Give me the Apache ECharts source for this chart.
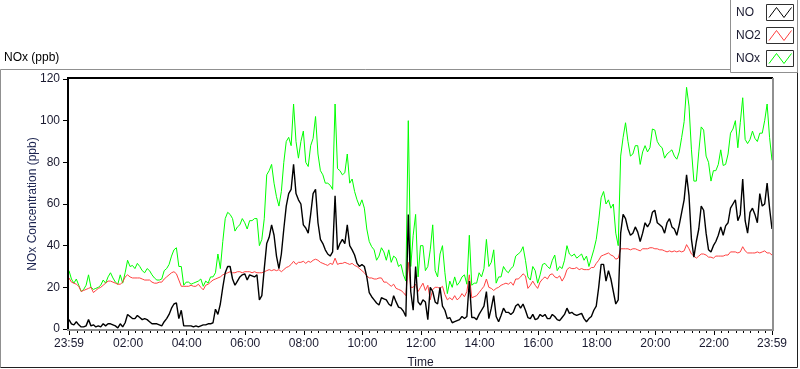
<!DOCTYPE html>
<html><head><meta charset="utf-8">
<script src="https://cdn.jsdelivr.net/npm/echarts@6/dist/echarts.min.js"></script>
<style>html,body{margin:0;padding:0;background:#fff}#c{width:800px;height:369px}</style>
</head><body><div id="c"></div>
<script>
// ---- data ----
const seriesNames = ['NO', 'NO2', 'NOx'];
const seriesColors = ['#000000', '#ff4040', '#00ff00'];
const chartTitle = 'NOx (ppb)';
const yAxisTitle = 'NOx Concentration (ppb)';
const xAxisTitle = 'Time';
// x = minutes after the first sample (23:59); samples every 5 minutes
const sampleStepMinutes = 5;
const tickMinutes = [0, 121, 241, 361, 481, 601, 721, 841, 961, 1081, 1201, 1321, 1440];
const tickLabels = ['23:59', '02:00', '04:00', '06:00', '08:00', '10:00', '12:00', '14:00', '16:00', '18:00', '20:00', '22:00', '23:59'];
const yTicks = [0, 20, 40, 60, 80, 100, 120];

const noValues = [
4.5, 2.5, 2, 3.5, 2, 1, 1, 1.5, 4.5, 1.5,
2, 1, 1.5, 1, 2.5, 1.5, 2.5, 2.5, 2, 1.5,
0.5, 2.5, 1, 3, 7, 6, 5, 5, 6.5, 5.5,
4.5, 5, 4.5, 3.5, 2.5, 2.5, 2.5, 2, 1.5, 3.5,
5, 7, 10, 12, 12.5, 5, 9, 1.5, 1.5, 1.5,
1.5, 1, 1.5, 1, 1.5, 2, 2, 2.5, 2.5, 3,
9.5, 7, 12, 20, 27, 30, 30, 24, 21, 23,
25, 26, 26.5, 23.5, 26, 25.5, 25, 26, 14, 16,
29, 41, 44, 50, 45, 35, 29, 36, 48, 59,
65, 67, 79, 65, 62, 60, 50, 48.5, 46, 55,
65, 67, 51, 43, 41, 38, 36, 35, 37, 64,
38, 41, 43, 41, 50, 40, 38, 35.5, 31.5, 30,
31, 30, 25, 17.5, 15.5, 14, 12.5, 11.5, 15, 14.5,
14, 12, 11, 16, 13, 10.5, 10, 8.5, 6, 55,
18, 9, 30, 13, 11.5, 14, 13, 4.5, 20, 18,
13, 12, 20, 11, 9, 5, 5.5, 3, 3.5, 4,
4.5, 6, 5, 6, 23, 5.5, 5.5, 4.5, 7, 9,
11, 18, 5, 10, 16, 6, 3.5, 6.5, 10, 8,
8, 7, 8, 11, 12, 10, 12, 9, 5.5, 5,
7, 4.5, 5, 7, 6, 7, 5, 5, 7, 6,
4.5, 4, 5.5, 7, 10, 7.5, 8, 7, 6.5, 7,
7.5, 5, 3.5, 5, 6, 9, 11, 20, 31, 31,
23, 28, 24, 18, 12, 14, 46, 55, 53, 48,
45, 46, 49, 46.5, 42, 46, 51, 49, 51, 56,
57, 51, 50, 49, 46, 51, 53, 49, 48, 45,
50, 56, 62, 74, 64, 43, 34.5, 42, 48, 59,
57, 46, 38, 37, 40, 42, 45, 49, 45, 49.5,
51, 58, 60, 62, 52, 55, 72, 52, 46, 56,
58, 55, 51, 65, 59, 60, 70, 58, 48
];

const no2Values = [
24.5, 22.5, 22, 21.5, 20.5, 18, 18.5, 19, 19.5, 20,
17.5, 18.5, 19.5, 20, 21, 22, 23, 23, 22.5, 22,
21.5, 21.5, 22.5, 25, 26, 25, 24.5, 24.5, 24.5, 24.5,
24, 23.5, 23.5, 23.5, 22.5, 22, 22, 22.5, 22.5, 24,
25, 26, 27, 27.5, 26.5, 23.5, 20.5, 20.5, 20.5, 20.5,
21, 20.5, 20.5, 21.5, 20, 18.8, 21, 21.5, 22.5, 23.5,
24, 24.5, 25, 26, 26.5, 27, 27.5, 27, 27, 27.5,
27.5, 27, 27.5, 27.5, 27.5, 27, 27.5, 27, 27, 27,
27.5, 28, 28.5, 28, 28.5, 28, 28.5, 27.5, 28.5, 29.5,
30, 31, 32.5, 31, 32, 32, 32.5, 31.5, 32.5, 32,
33, 33.5, 33, 32, 31.5, 31, 30.5, 31.5, 31, 34,
31, 31.5, 31.5, 32, 31.5, 31, 31.5, 30.5, 30, 29,
28, 27, 25.5, 24.5, 24.5, 24, 24, 24.5, 24.5, 22.5,
22.5, 21.5, 20.5, 21.5, 19.5, 19, 18.5, 17.5, 16, 32,
20, 20, 21.5, 18, 20, 22, 18.5, 21, 14, 19,
20, 20, 19.5, 20.5, 16.5, 14, 15, 14, 16, 14,
15, 17, 15.5, 18, 26, 15, 15.5, 16, 17.5, 19,
20.5, 24, 20, 19.5, 18.5, 19.5, 20, 21, 21.5, 22,
21.5, 22.5, 21, 24, 24, 25, 26.5, 25.5, 19.5, 21,
23, 21, 19.5, 22.5, 24, 25, 24, 26, 26.5, 25,
24.5, 25.5, 23, 25, 28.5, 29.5, 29, 29, 29.5, 28.5,
29, 28.5, 28.5, 28.5, 29.5, 29.5, 31.5, 33, 35, 35.5,
36, 36.5, 35.5, 35, 33.5, 34, 38.5, 38.5, 38.5, 38.5,
38, 38.5, 38.5, 38, 37.5, 38.5, 38.5, 38.5, 39, 39,
38.5, 38.5, 38, 38, 37.5, 37, 37.5, 37, 37.5, 37,
37.5, 37, 37.5, 40.5, 38.5, 36, 35, 34, 35, 36,
36, 35.5, 34.5, 34.5, 34, 35, 35, 35, 35, 35.5,
35.5, 37, 37, 37, 36.5, 37, 39.5, 37.5, 36.5, 36.5,
36.5, 36.5, 37, 36.5, 37, 37.5, 36.5, 36.5, 35.5
];

const noxValues = [
28, 24, 22, 24, 21, 18, 19, 21, 26, 20,
19, 19.5, 20, 21, 23.5, 22, 25, 27, 24.5, 22.5,
21.5, 26, 22, 27, 33, 30, 30.5, 29, 31.5, 30,
28, 27, 29, 28, 26, 24.5, 23.5, 23.5, 24, 28,
29, 31, 35, 38, 39, 30, 30, 21, 22.5, 22.5,
21.5, 22, 22.5, 23, 24, 20.5, 23, 22, 25, 25,
27, 36, 29, 42, 53, 56, 55, 53, 47, 49,
50, 53, 51, 48, 52, 52, 53, 53, 40, 43,
53, 74, 76, 79, 70, 63.5, 59, 66, 80, 90,
92, 88, 108, 90, 82, 90, 95, 80, 78, 88,
91.5, 102, 84, 76, 74, 70, 70, 69, 67, 108,
77, 76, 74, 75, 84, 70, 72, 66, 62, 59,
62, 58, 48, 42, 39.5, 38, 33, 35, 39, 37,
33, 38, 32, 35, 34, 30, 31, 26, 23, 100,
30, 45, 55, 25, 40, 40, 28, 30, 38, 50,
28, 25, 36, 40, 27, 17, 23, 20, 25, 21,
22.5, 25, 26, 21.5, 45, 21, 22, 22, 27, 25,
29, 43, 30, 32, 38, 22, 25, 25, 30, 28,
27, 29, 30, 35, 36, 37, 39.5, 33, 25, 23.5,
30, 28, 22, 26, 31, 31.5, 30, 29, 33, 35.5,
28, 30, 29, 33, 40, 36, 35, 36, 34, 35,
36, 33, 35, 30, 34, 38, 43, 52, 63, 66,
60, 62, 58, 60, 46, 40, 83, 92, 99, 90,
83, 84, 88, 88, 79, 85, 88, 85, 87, 96,
95.5, 90, 88, 87, 82, 84, 85, 86, 83, 81.5,
85, 92, 99.5, 116, 107, 86, 71, 71, 85, 97,
95.5, 83, 80, 71, 76, 76, 79, 86, 78.5, 79,
84, 94, 96, 100, 87, 99, 111, 91, 89, 91,
95, 91.5, 90, 94, 94, 100, 108, 92, 81
];

// ---- layout / style ----
const FONT = '"Liberation Sans", Arial, sans-serif';
const TXT = '#1a1a30';
const G = { left: 69, top: 79, right: 772, bottom: 329 };

function pairs(vals) { return vals.map((v, i) => [i * sampleStepMinutes, v]); }
const minorTicks = [];
for (let m = 16; m < 1440; m += 15) if (tickMinutes.indexOf(m) < 0) minorTicks.push(m);

const valuesByName = { 'NO': noValues, 'NO2': no2Values, 'NOx': noxValues };
const widths = { 'NO': 1.4, 'NO2': 1, 'NOx': 1 };
const drawOrder = ['NOx', 'NO2', 'NO'];
const series = drawOrder.map((name, i) => ({
  name, type: 'line', data: pairs(valuesByName[name]), showSymbol: false, symbol: 'none',
  lineStyle: { color: seriesColors[seriesNames.indexOf(name)], width: widths[name] },
  itemStyle: { color: seriesColors[seriesNames.indexOf(name)] },
  z: 2 + i, animation: false, silent: true
}));

const graphic = [];
// outer frame
graphic.push({ type: 'polyline', shape: { points: [[0.5, 367.5], [0.5, 69.5], [731, 69.5]] }, style: { stroke: '#909090', lineWidth: 1, fill: null }, z: 1 });
graphic.push({ type: 'polyline', shape: { points: [[797.5, 72], [797.5, 367.5], [0.5, 367.5]] }, style: { stroke: '#202020', lineWidth: 1, fill: null }, z: 1 });
// plot border (inset look)
graphic.push({ type: 'polyline', shape: { points: [[G.left - 1, G.bottom + 1], [G.left - 1, G.top - 1], [G.right + 1, G.top - 1]] }, style: { stroke: '#000', lineWidth: 2, fill: null }, z: 20 });
graphic.push({ type: 'polyline', shape: { points: [[G.right + 1, G.top - 1], [G.right + 1, G.bottom + 1], [G.left - 2, G.bottom + 1]] }, style: { stroke: '#909090', lineWidth: 2, fill: null }, z: 20 });
// title
graphic.push({ type: 'text', left: 4, top: 52, style: { text: chartTitle, font: '12px ' + FONT, fill: '#000' }, z: 20 });
// legend box
graphic.push({ type: 'rect', shape: { x: 730.5, y: -1, width: 67, height: 73.5 }, style: { fill: '#fff', stroke: '#909090', lineWidth: 1 }, z: 30 });
seriesNames.forEach((name, i) => {
  const y0 = 4.5 + i * 23;
  graphic.push({ type: 'text', x: 736, y: y0 + 8.5, style: { text: name, font: '12px ' + FONT, fill: TXT, verticalAlign: 'middle' }, z: 31 });
  graphic.push({ type: 'rect', shape: { x: 766.5, y: y0, width: 27, height: 16 }, style: { fill: '#fff', stroke: '#303030', lineWidth: 1 }, z: 31 });
  graphic.push({ type: 'polyline', shape: { points: [[769, y0 + 13], [776.5, y0 + 3], [784, y0 + 13], [791.5, y0 + 3]] }, style: { stroke: seriesColors[i], lineWidth: 1, fill: null }, z: 32 });
});

const chart = echarts.init(document.getElementById('c'), null, { renderer: 'canvas' });
chart.setOption({
  animation: false,
  backgroundColor: '#fff',
  grid: { left: G.left, top: G.top, width: G.right - G.left, height: G.bottom - G.top, containLabel: false, outerBoundsMode: 'none' },
  xAxis: [{
    type: 'value', min: 0, max: 1440, position: 'bottom',
    name: xAxisTitle, nameLocation: 'middle', nameGap: 28, nameMoveOverlap: false,
    nameTextStyle: { color: TXT, fontFamily: FONT, fontSize: 12 },
    axisLine: { show: false },
    axisTick: { show: true, customValues: tickMinutes, length: 6, lineStyle: { color: '#000' } },
    axisLabel: { show: true, customValues: tickMinutes, margin: 9, color: TXT, fontFamily: FONT, fontSize: 12,
      formatter: v => { const i = tickMinutes.indexOf(Math.round(v)); return i >= 0 ? tickLabels[i] : ''; } },
    splitLine: { show: false }
  }, {
    type: 'value', min: 0, max: 1440, position: 'bottom', gridIndex: 0,
    axisLine: { show: false },
    axisTick: { show: true, customValues: minorTicks, length: 4, lineStyle: { color: '#000' } },
    axisLabel: { show: false }, splitLine: { show: false }
  }],
  yAxis: {
    type: 'value', min: 0, max: 120, interval: 20,
    name: yAxisTitle, nameLocation: 'middle', nameGap: 30, nameRotate: 90, nameMoveOverlap: false,
    nameTextStyle: { color: '#1c2450', fontFamily: FONT, fontSize: 12 },
    axisLine: { show: false },
    axisTick: { show: true, length: 6, lineStyle: { color: '#000' } },
    axisLabel: { color: TXT, fontFamily: FONT, fontSize: 12, margin: 9 },
    splitLine: { show: false }
  },
  series,
  graphic
});
</script>
</body></html>
